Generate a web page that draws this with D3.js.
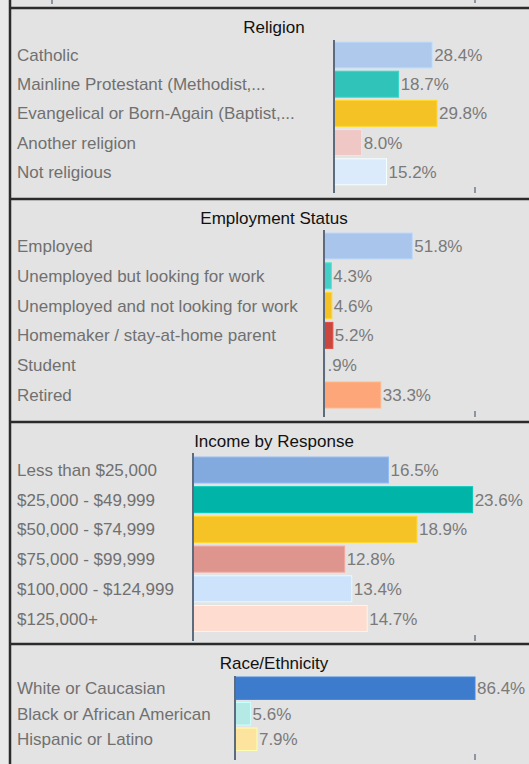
<!DOCTYPE html>
<html>
<head>
<meta charset="utf-8">
<script src="https://cdn.jsdelivr.net/npm/d3@7"></script>
<style>
  html, body { margin: 0; padding: 0; background: #e9e9e9; overflow: hidden; }
  svg { display: block; }
</style>
</head>
<body>
<svg id="chart" width="529" height="764"></svg>
<script>
// Survey breakdowns, one block per question
const religionCategories = [
  "Catholic",
  "Mainline Protestant (Methodist,...",
  "Evangelical or Born-Again (Baptist,...",
  "Another religion",
  "Not religious"
];
const religionValues = [28.4, 18.7, 29.8, 8.0, 15.2];
const religionColors = ["#aec9eb", "#2fc3b9", "#f5c225", "#efc8c6", "#dcebfc"];

const employmentCategories = [
  "Employed",
  "Unemployed but looking for work",
  "Unemployed and not looking for work",
  "Homemaker / stay-at-home parent",
  "Student",
  "Retired"
];
const employmentValues = [51.8, 4.3, 4.6, 5.2, 0.9, 33.3];
const employmentColors = ["#a9c5ec", "#44cfc6", "#f5c225", "#c9473c", "#b9c9dd", "#fca67a"];

const incomeCategories = [
  "Less than $25,000",
  "$25,000 - $49,999",
  "$50,000 - $74,999",
  "$75,000 - $99,999",
  "$100,000 - $124,999",
  "$125,000+"
];
const incomeValues = [16.5, 23.6, 18.9, 12.8, 13.4, 14.7];
const incomeColors = ["#82aade", "#00b4a8", "#f5c325", "#de958e", "#cde2fb", "#fedccf"];

const raceCategories = [
  "White or Caucasian",
  "Black or African American",
  "Hispanic or Latino"
];
const raceValues = [86.4, 5.6, 7.9];
const raceColors = ["#3d7bcd", "#b4e9e6", "#fce49f"];

const panelTitles = ["Religion", "Employment Status", "Income by Response", "Race/Ethnicity"];
// upper end of each horizontal scale
const axisMaxima = [40.8, 88.6, 23.8, 86.4];

const svg = d3.select("#chart");
const W = 529, H = 764;
const panelLeft = 10, panelRight = 540, axisEnd = 475;
const fontFamily = "'Liberation Sans', Arial, sans-serif";

const fmt = v => d3.format(".1f")(v).replace(/^0\./, ".") + "%";

// layout for each block: top/bottom border, axis x, row step, bar height
const layouts = [
  { top: 8,   bottom: 199, axisX: 334, firstBar: 42,  step: 29.2, barH: 26,   axisTop: 40,  axisBottom: 193 },
  { top: 199, bottom: 422, axisX: 324, firstBar: 233, step: 29.8, barH: 26,   axisTop: 230, axisBottom: 417 },
  { top: 422, bottom: 644, axisX: 193, firstBar: 457, step: 29.7, barH: 26,   axisTop: 453, axisBottom: 641 },
  { top: 644, bottom: 790, axisX: 235, firstBar: 677, step: 25.5, barH: 22.5, axisTop: 676, axisBottom: 760 }
];

const datasets = [
  { cats: religionCategories, vals: religionValues, cols: religionColors },
  { cats: employmentCategories, vals: employmentValues, cols: employmentColors },
  { cats: incomeCategories, vals: incomeValues, cols: incomeColors },
  { cats: raceCategories, vals: raceValues, cols: raceColors }
];

// sliver of the block above the first one
const prev = svg.append("g");
prev.append("rect").attr("x", panelLeft).attr("y", -20).attr("width", panelRight - panelLeft).attr("height", 28)
  .attr("fill", "#e3e3e3");
prev.append("line").attr("x1", 52).attr("x2", 52).attr("y1", -5).attr("y2", 4)
  .attr("stroke", "#6f7c8e").attr("stroke-width", 1.5);
prev.append("line").attr("x1", axisEnd).attr("x2", axisEnd).attr("y1", -2).attr("y2", 3)
  .attr("stroke", "#6f7c8e").attr("stroke-width", 1.5);

layouts.forEach((L, i) => {
  const d = datasets[i];
  const g = svg.append("g");

  g.append("rect")
    .attr("x", panelLeft).attr("y", L.top)
    .attr("width", panelRight - panelLeft).attr("height", L.bottom - L.top)
    .attr("fill", "#e3e3e3");

  const pad = (L.step - L.barH) / L.step;
  const y = d3.scaleBand()
    .domain(d.cats)
    .range([L.firstBar - (L.step - L.barH) / 2, L.firstBar - (L.step - L.barH) / 2 + L.step * d.cats.length])
    .paddingInner(pad)
    .paddingOuter(pad / 2);

  const x = d3.scaleLinear().domain([0, axisMaxima[i]]).range([L.axisX, axisEnd]);

  // title
  g.append("text")
    .attr("x", (panelLeft + 538) / 2).attr("y", L.top + 25)
    .attr("text-anchor", "middle")
    .attr("font-family", fontFamily).attr("font-size", 17)
    .attr("fill", "#111")
    .text(panelTitles[i]);

  const rows = g.selectAll("g.row").data(d.cats).join("g").attr("class", "row");

  rows.append("rect")
    .attr("x", x(0))
    .attr("y", c => y(c))
    .attr("width", (c, j) => x(d.vals[j]) - x(0))
    .attr("height", y.bandwidth())
    .attr("fill", (c, j) => d.cols[j])
    .attr("stroke", (c, j) => d3.color(d.cols[j]).brighter(0.3))
    .attr("stroke-width", 1);

  rows.append("text")
    .attr("x", 17)
    .attr("y", c => y(c) + y.bandwidth() / 2 + 6)
    .attr("font-family", fontFamily).attr("font-size", 17)
    .attr("fill", "#707070")
    .text(c => c);

  rows.append("text")
    .attr("x", (c, j) => x(d.vals[j]) + 2)
    .attr("y", c => y(c) + y.bandwidth() / 2 + 6)
    .attr("font-family", fontFamily).attr("font-size", 17)
    .attr("fill", "#7a7a7a")
    .text((c, j) => fmt(d.vals[j]));

  // baseline axis
  g.append("line")
    .attr("x1", x(0)).attr("x2", x(0))
    .attr("y1", L.axisTop).attr("y2", L.axisBottom)
    .attr("stroke", "#5d6b7f").attr("stroke-width", 2);

  // end tick of the scale
  g.append("line")
    .attr("x1", x(axisMaxima[i])).attr("x2", x(axisMaxima[i]))
    .attr("y1", L.axisBottom - 6).attr("y2", L.axisBottom)
    .attr("stroke", "#6f7c8e").attr("stroke-width", 1.5);
});

// block borders
const borders = svg.append("g").attr("stroke", "#2b2b2b").attr("stroke-width", 2.5).attr("fill", "none");
layouts.forEach(L => {
  borders.append("line").attr("x1", panelLeft).attr("x2", panelRight).attr("y1", L.top).attr("y2", L.top);
});
borders.append("line").attr("x1", panelLeft).attr("x2", panelLeft).attr("y1", -5).attr("y2", H + 5);
</script>
</body>
</html>
